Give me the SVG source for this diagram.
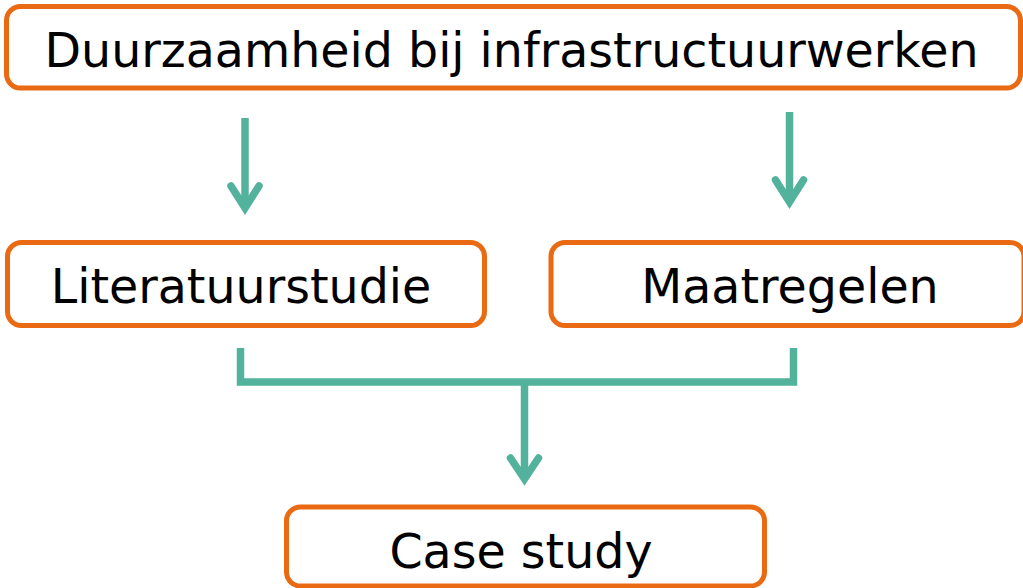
<svg xmlns="http://www.w3.org/2000/svg" width="1023" height="588" viewBox="0 0 1023 588">
  <style>
    .box { fill: #ffffff; stroke: #E96A12; stroke-width: 5; }
    .label { font-family: "DejaVu Sans", Verdana, sans-serif; font-size: 47.5px; fill: #000000; text-anchor: middle; }
    .flow { fill: none; stroke: #53B29B; stroke-width: 7.5; }
    .shaft { stroke-linecap: butt; }
    .head { stroke-linecap: round; stroke-linejoin: miter; }
  </style>
  <rect width="1023" height="588" fill="#ffffff"/>

  <g id="connectors">
    <!-- top node to Literatuurstudie -->
    <path class="flow shaft" d="M245,118 V208"/>
    <path class="flow head" d="M231,186 L245,208 L259,186"/>
    <!-- top node to Maatregelen -->
    <path class="flow shaft" d="M789.5,112 V202"/>
    <path class="flow head" d="M775.5,180 L789.5,202 L803.5,180"/>
    <!-- merge of both into Case study -->
    <path class="flow shaft" d="M240.5,348 V382 H793.5 V348" stroke-linejoin="miter"/>
    <path class="flow shaft" d="M524.5,382 V479"/>
    <path class="flow head" d="M510.5,458 L524.5,479 L538.5,458"/>
  </g>

  <g id="node-duurzaamheid">
    <rect class="box" x="6.5" y="6.5" width="1014" height="81.5" rx="14"/>
    <text class="label" x="511.5" y="66.5">Duurzaamheid bij infrastructuurwerken</text>
  </g>

  <g id="node-literatuurstudie">
    <rect class="box" x="7.5" y="242.5" width="477" height="83" rx="14"/>
    <text class="label" x="241" y="302.7">Literatuurstudie</text>
  </g>

  <g id="node-maatregelen">
    <rect class="box" x="551" y="242.5" width="473" height="83" rx="14"/>
    <text class="label" x="790" y="302.7">Maatregelen</text>
  </g>

  <g id="node-case-study">
    <rect class="box" x="286.5" y="507" width="478" height="79" rx="14"/>
    <text class="label" x="521" y="568">Case study</text>
  </g>
</svg>
